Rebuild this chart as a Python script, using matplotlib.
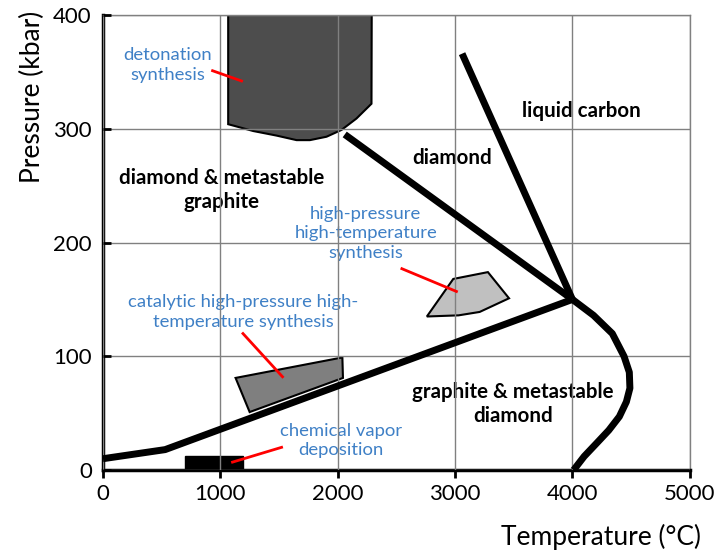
import matplotlib
matplotlib.use("Agg")
import matplotlib.pyplot as plt
from matplotlib.patches import Polygon

plt.rcParams["font.family"] = ["Lato", "DejaVu Sans"]

# Phase boundaries (temperature in degC, pressure in kbar)
graphite_diamond_T = [0, 530, 4000]
graphite_diamond_P = [10, 18, 150]
melting_T = [4000, 4180, 4340, 4440, 4485, 4490, 4460, 4400, 4310, 4210, 4100, 4010]
melting_P = [150, 136, 120, 100, 86, 72, 60, 47, 35, 24, 12, 0]
diamond_liquid_T = [4000, 3060]
diamond_liquid_P = [150, 366]
metastable_T = [4000, 2060]
metastable_P = [150, 295]

# Synthesis regions
detonation_T = [1067, 1067, 1281, 1479, 1650, 1763, 1905, 2033, 2160, 2288, 2290]
detonation_P = [400, 304, 298, 294, 290, 290, 293, 299, 309, 322, 400]
hpht_T = [2760, 2985, 3280, 3460, 3210, 3030]
hpht_P = [135, 168, 174, 151, 139, 136]
catalytic_T = [1130, 2040, 2045, 1250]
catalytic_P = [81, 99, 81, 51]
cvd_T = [700, 1190, 1190, 700]
cvd_P = [0, 0, 12, 12]

# Leader lines from labels to regions
leaders = [
    ([934, 1181], [351, 342]),
    ([2547, 3012], [177, 157]),
    ([1193, 1530], [120, 82]),
    ([1522, 1104], [20, 7]),
]

blue = "#3f80c6"

fig = plt.figure(figsize=(7.2, 5.55), dpi=100)
ax = fig.add_axes([0.143, 0.153, 0.815, 0.82])

ax.add_patch(Polygon(list(zip(detonation_T, detonation_P)), closed=True,
                     facecolor="#4d4d4d", edgecolor="black", linewidth=1.5, zorder=1))
ax.add_patch(Polygon(list(zip(hpht_T, hpht_P)), closed=True,
                     facecolor="#c0c0c0", edgecolor="black", linewidth=1.5, zorder=1))
ax.add_patch(Polygon(list(zip(catalytic_T, catalytic_P)), closed=True,
                     facecolor="#7f7f7f", edgecolor="black", linewidth=1.5, zorder=1))
ax.add_patch(Polygon(list(zip(cvd_T, cvd_P)), closed=True,
                     facecolor="black", edgecolor="black", linewidth=1, zorder=1))

for T, P in [(graphite_diamond_T, graphite_diamond_P), (melting_T, melting_P),
             (diamond_liquid_T, diamond_liquid_P), (metastable_T, metastable_P)]:
    ax.plot(T, P, color="black", linewidth=5, solid_capstyle="butt",
            solid_joinstyle="round", zorder=4)

for T, P in leaders:
    ax.plot(T, P, color="red", linewidth=2, zorder=5)

bold = dict(fontsize=14.8, fontweight="bold", ha="center", va="center",
            color="black", linespacing=1.25, zorder=2)
note = dict(fontsize=13.3, ha="center", va="center", color=blue,
            linespacing=1.3, zorder=2)

ax.text(4080, 316, "liquid carbon", **bold)
ax.text(2973, 274, "diamond", **bold)
ax.text(1014, 246, "diamond & metastable\ngraphite", **bold)
ax.text(3492, 58, "graphite & metastable\ndiamond", **bold)

ax.text(554, 356, "detonation\nsynthesis", **note)
ax.text(2240, 208, "high-pressure\nhigh-temperature\nsynthesis", **note)
ax.text(1195, 139, "catalytic high-pressure high-\ntemperature synthesis", **note)
ax.text(2027, 26, "chemical vapor\ndeposition", **note)

ax.set_xlim(0, 5000)
ax.set_ylim(0, 400)
ax.set_xticks([0, 1000, 2000, 3000, 4000, 5000])
ax.set_yticks([0, 100, 200, 300, 400])
ax.grid(True, color="#808080", linewidth=1)
ax.set_axisbelow(False)

for side in ["top", "right"]:
    ax.spines[side].set_color("#808080")
    ax.spines[side].set_linewidth(1)
for side in ["left", "bottom"]:
    ax.spines[side].set_linewidth(2.5)

ax.tick_params(axis="x", direction="out", length=6, width=2, labelsize=16, pad=4)
ax.tick_params(axis="y", direction="in", length=6, width=2, labelsize=16, pad=8)

ax.set_xlabel("Temperature (°C)", fontsize=19, loc="right", labelpad=14)
ax.set_ylabel("Pressure (kbar)", fontsize=19, loc="top", labelpad=6)
ax.xaxis.label.set_x(1.02)
ax.yaxis.label.set_y(1.01)

fig.savefig("out.png", dpi=100)
